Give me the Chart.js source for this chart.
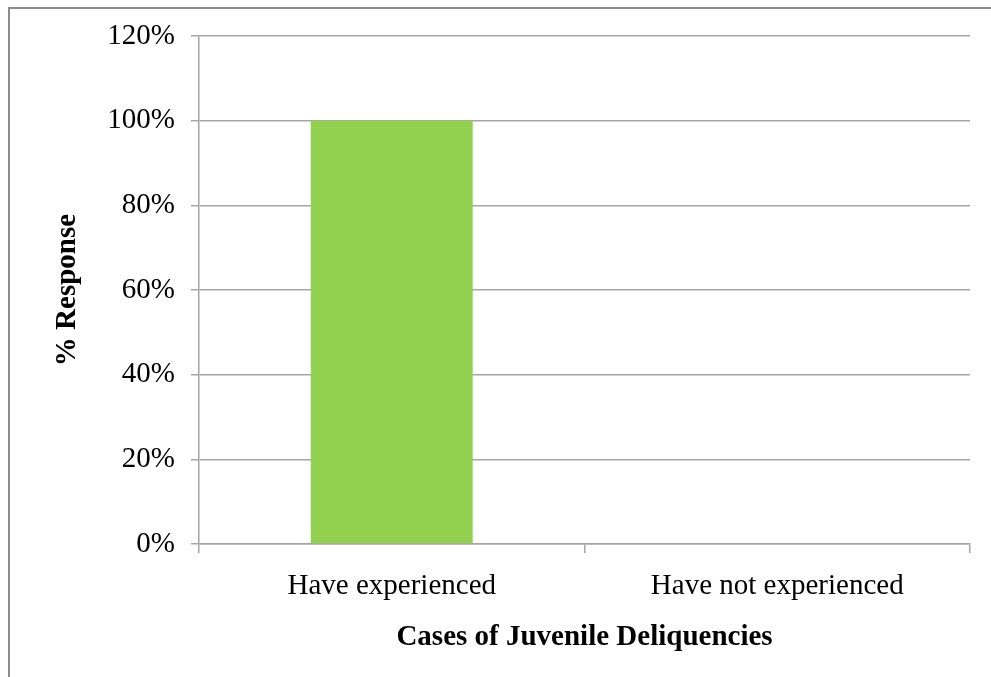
<!DOCTYPE html>
<html lang="en">
<head>
    <meta charset="UTF-8">
    <title>Cases of Juvenile Deliquencies</title>
    <script src="https://cdn.jsdelivr.net/npm/chart.js"></script>
    <style>
        body {
            margin: 0;
            padding: 0;
            background: white;
            overflow: hidden;
        }

        /* Outer frame, runs off the right and bottom edge like the original */
        .frame {
            position: absolute;
            left: 8px;
            top: 7px;
            width: 1100px;
            height: 800px;
            border: 2px solid #8c8c8c;
        }

        .chart-box {
            position: absolute;
            left: 0;
            top: 0;
            width: 991px;
            height: 677px;
        }
    </style>
</head>
<body>

    <div class="frame"></div>
    <div class="chart-box">
        <canvas id="responseChart"></canvas>
    </div>

    <script>
        // data
        const categories = ["Have experienced", "Have not experienced"];
        const responses = [100, 0];
        const yTicks = [0, 20, 40, 60, 80, 100, 120];

        const serif = "'Liberation Serif', 'Times New Roman', serif";
        const gridGrey = "#a6a6a6";

        const ctx = document.getElementById("responseChart").getContext("2d");
        new Chart(ctx, {
            type: "bar",
            data: {
                labels: categories,
                datasets: [{
                    label: "% Response",
                    data: responses,
                    backgroundColor: "#92d050",
                    borderWidth: 0,
                    categoryPercentage: 0.42,
                    barPercentage: 1.0
                }]
            },
            options: {
                responsive: true,
                maintainAspectRatio: false,
                animation: false,
                layout: {
                    padding: { left: 40, top: 36, right: 21, bottom: 0 }
                },
                scales: {
                    x: {
                        grid: {
                            display: true,
                            drawOnChartArea: false,
                            offset: true,
                            tickLength: 9,
                            color: gridGrey,
                            lineWidth: 1.5
                        },
                        border: { color: gridGrey, width: 1.5 },
                        ticks: {
                            color: "#000",
                            padding: 16,
                            font: { family: serif, size: 29 }
                        },
                        title: {
                            display: true,
                            text: "Cases of Juvenile Deliquencies",
                            color: "#000",
                            padding: { top: 4, bottom: 22 },
                            font: { family: serif, size: 29, weight: "bold" }
                        },
                        afterFit: function (scale) {
                            scale.height = 133;
                        }
                    },
                    y: {
                        min: 0,
                        max: 120,
                        afterBuildTicks: function (scale) {
                            scale.ticks = yTicks.map(v => ({ value: v }));
                        },
                        grid: {
                            color: gridGrey,
                            lineWidth: 1.5,
                            tickLength: 8
                        },
                        border: { color: gridGrey, width: 1.5 },
                        ticks: {
                            color: "#000",
                            padding: 16,
                            font: { family: serif, size: 29 },
                            callback: function (value) {
                                return value + "%";
                            }
                        },
                        title: {
                            display: true,
                            text: "% Response",
                            color: "#000",
                            padding: { top: 10, bottom: 4 },
                            font: { family: serif, size: 29, weight: "bold" }
                        },
                        afterFit: function (scale) {
                            scale.width = 159;
                        }
                    }
                },
                plugins: {
                    legend: { display: false },
                    tooltip: { enabled: false }
                }
            }
        });
    </script>

</body>
</html>
